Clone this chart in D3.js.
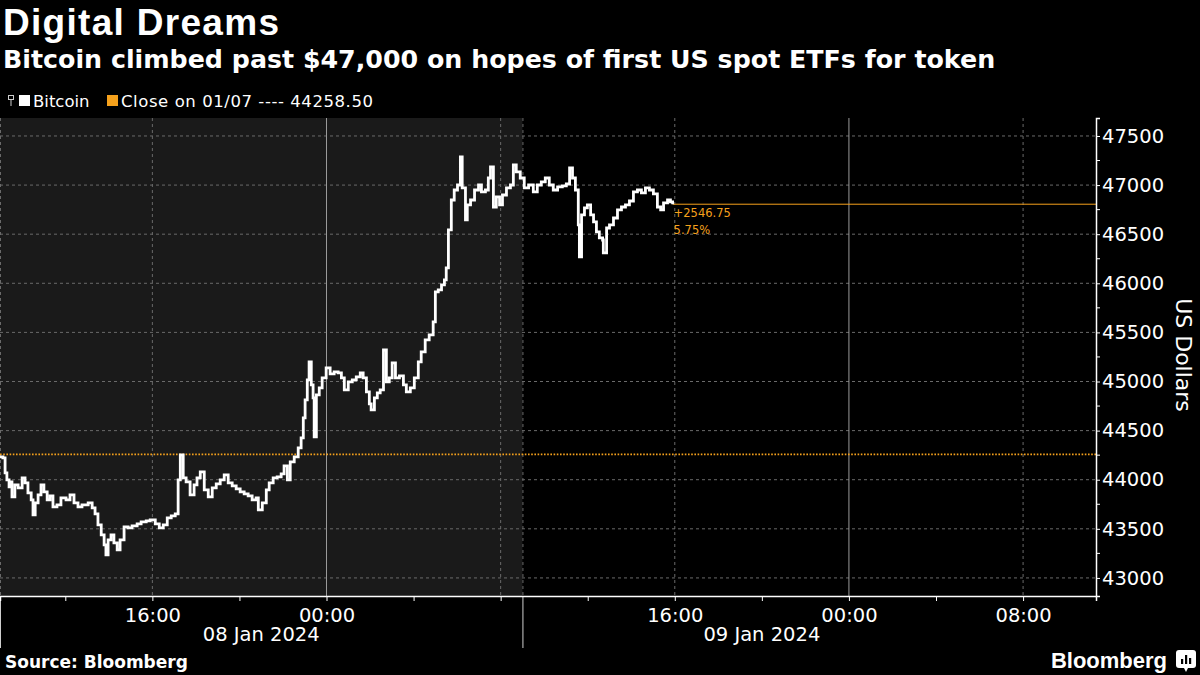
<!DOCTYPE html>
<html>
<head>
<meta charset="utf-8">
<script src="https://cdn.jsdelivr.net/npm/d3@7"></script>
<style>
  body { margin: 0; background: #000; }
  svg { display: block; font-family: "DejaVu Sans", sans-serif; }
</style>
</head>
<body>
<svg id="chart" width="1200" height="675"></svg>
<script>
// Bitcoin price, 08-09 Jan 2024
var times = [
  "01-08 09:00","01-08 09:08","01-08 09:14","01-08 09:19","01-08 09:25","01-08 09:30","01-08 09:33","01-08 09:41","01-08 09:50","01-08 10:01",
  "01-08 10:09","01-08 10:17","01-08 10:26","01-08 10:31","01-08 10:37","01-08 10:45","01-08 10:53","01-08 11:01","01-08 11:10","01-08 11:18",
  "01-08 11:26","01-08 11:37","01-08 11:48","01-08 12:02","01-08 12:13","01-08 12:24","01-08 12:35","01-08 12:46","01-08 13:03","01-08 13:14",
  "01-08 13:22","01-08 13:30","01-08 13:39","01-08 13:47","01-08 13:52","01-08 13:58","01-08 14:06","01-08 14:14","01-08 14:23","01-08 14:31",
  "01-08 14:42","01-08 14:53","01-08 15:04","01-08 15:18","01-08 15:29","01-08 15:43","01-08 15:54","01-08 16:08","01-08 16:19","01-08 16:30",
  "01-08 16:41","01-08 16:52","01-08 17:03","01-08 17:11","01-08 17:17","01-08 17:25","01-08 17:33","01-08 17:44","01-08 17:55","01-08 18:03",
  "01-08 18:12","01-08 18:23","01-08 18:34","01-08 18:45","01-08 18:56","01-08 19:07","01-08 19:18","01-08 19:29","01-08 19:40","01-08 19:51",
  "01-08 20:02","01-08 20:13","01-08 20:24","01-08 20:35","01-08 20:46","01-08 20:52","01-08 21:03","01-08 21:14","01-08 21:22","01-08 21:33",
  "01-08 21:44","01-08 21:55","01-08 22:03","01-08 22:12","01-08 22:20","01-08 22:31","01-08 22:42","01-08 22:50","01-08 22:56","01-08 23:01",
  "01-08 23:07","01-08 23:12","01-08 23:18","01-08 23:23","01-08 23:26","01-08 23:32","01-08 23:40","01-08 23:48","01-08 23:59","01-09 00:10",
  "01-09 00:21","01-09 00:32","01-09 00:41","01-09 00:49","01-09 01:00","01-09 01:11","01-09 01:22","01-09 01:33","01-09 01:41","01-09 01:50",
  "01-09 01:58","01-09 02:03","01-09 02:12","01-09 02:20","01-09 02:28","01-09 02:37","01-09 02:45","01-09 02:53","01-09 03:01","01-09 03:10",
  "01-09 03:21","01-09 03:32","01-09 03:40","01-09 03:51","01-09 04:02","01-09 04:13","01-09 04:21","01-09 04:32","01-09 04:43","01-09 04:54",
  "01-09 05:00","01-09 05:08","01-09 05:17","01-09 05:25","01-09 05:30","01-09 05:36","01-09 05:44","01-09 05:52","01-09 06:01","01-09 06:09",
  "01-09 06:14","01-09 06:23","01-09 06:28","01-09 06:37","01-09 06:48","01-09 06:59","01-09 07:07","01-09 07:18","01-09 07:26","01-09 07:32",
  "01-09 07:40","01-09 07:48","01-09 07:57","01-09 08:05","01-09 08:16","01-09 08:27","01-09 08:35","01-09 08:43","01-09 08:54","01-09 09:05",
  "01-09 09:17","01-09 09:30","01-09 09:41","01-09 09:52","01-09 10:03","01-09 10:14","01-09 10:25","01-09 10:37","01-09 10:50","01-09 11:01",
  "01-09 11:10","01-09 11:18","01-09 11:26","01-09 11:34","01-09 11:37","01-09 11:43","01-09 11:51","01-09 11:59","01-09 12:08","01-09 12:16",
  "01-09 12:24","01-09 12:32","01-09 12:41","01-09 12:43","01-09 12:52","01-09 13:00","01-09 13:11","01-09 13:22","01-09 13:33","01-09 13:44",
  "01-09 13:55","01-09 14:06","01-09 14:17","01-09 14:28","01-09 14:39","01-09 14:50","01-09 15:01","01-09 15:12","01-09 15:21","01-09 15:29",
  "01-09 15:40","01-09 15:48","01-09 15:54"
];
var prices = [
  44232,44222,44069,43998,43927,43978,43825,43947,43917,44018,
  43968,43866,43794,43642,43764,43845,43947,43876,43794,43835,
  43723,43744,43815,43794,43845,43764,43723,43744,43764,43713,
  43652,43540,43438,43336,43235,43387,43438,43357,43285,43387,
  43520,43509,43530,43550,43571,43581,43591,43550,43509,43540,
  43611,43632,43652,43998,44253,44018,43978,43845,43947,44018,
  44080,43896,43825,43917,43957,43998,44049,43968,43937,43906,
  43876,43856,43835,43794,43815,43693,43764,43896,43968,44018,
  44029,44059,44141,43998,44181,44232,44324,44426,44629,44812,
  45016,45199,44965,44833,44436,44863,44935,45036,45138,45077,
  45098,45087,45036,44914,44996,45016,45047,45087,45036,44894,
  44772,44711,44833,44884,44914,45321,44996,45036,45189,45036,
  45057,44965,44894,44935,45036,45199,45301,45423,45474,45607,
  45912,45932,45983,46034,46156,46543,46848,46950,47001,47286,
  46971,46645,46798,46848,46950,47001,46930,46950,47072,47184,
  46777,46879,46798,46899,46971,47001,47205,47134,47072,46971,
  47001,46930,47001,47032,47072,47001,46950,46981,46991,47011,
  47174,47072,46950,46594,46268,46696,46767,46798,46696,46625,
  46523,46462,46441,46309,46563,46594,46665,46747,46777,46798,
  46838,46930,46950,46920,46971,46950,46910,46777,46747,46818,
  46848,46828,46805.25
];
var prevClose = 44258.50;
var yTicks = [43000, 43500, 44000, 44500, 45000, 45500, 46000, 46500, 47000, 47500];
var xLabels = ["01-08 16:00", "01-09 00:00", "01-09 16:00", "01-10 00:00", "01-10 08:00"];
var sessions = [
  {label: "08 Jan 2024", start: "01-08 09:00", end: "01-09 09:00"},
  {label: "09 Jan 2024", start: "01-09 09:00", end: "01-10 07:00"}
];

var parseT = d3.timeParse("%Y-%m-%d %H:%M");
var T = s => parseT("2024-" + s);
var data = times.map((t, i) => ({t: T(t), v: prices[i]}));

var orange = "#f5a11c";
var svg = d3.select("#chart");
var plot = {left: 0, right: 1096, top: 118, bottom: 596};

var x = d3.scaleTime()
  .domain([T("01-08 09:00"), T("01-10 11:21")])
  .range([plot.left, plot.right]);
var y = d3.scaleLinear()
  .domain([42816, 47683])
  .range([plot.bottom, plot.top]);

svg.append("rect").attr("width", 1200).attr("height", 675).attr("fill", "#000");

// shaded previous session
svg.append("rect")
  .attr("x", x(T(sessions[0].start)))
  .attr("y", plot.top)
  .attr("width", x(T(sessions[0].end)) - x(T(sessions[0].start)))
  .attr("height", plot.bottom - plot.top)
  .attr("fill", "#1a1a1a");

// horizontal grid
svg.append("g").selectAll("line")
  .data(yTicks)
  .join("line")
    .attr("x1", plot.left).attr("x2", plot.right)
    .attr("y1", d => y(d)).attr("y2", d => y(d))
    .attr("stroke", "#6a6a6a")
    .attr("stroke-dasharray", "3,3");

// vertical grid every 8 hours, solid at midnight
var grid8 = d3.timeHour.every(8).range(x.domain()[0], x.domain()[1]);
svg.append("g").selectAll("line")
  .data(grid8)
  .join("line")
    .attr("x1", d => x(d)).attr("x2", d => x(d))
    .attr("y1", plot.top).attr("y2", plot.bottom)
    .attr("stroke", d => d.getHours() === 0 ? "#9a9a9a" : "#6a6a6a")
    .attr("stroke-dasharray", d => d.getHours() === 0 ? null : "3,3");

// session separators
svg.append("g").selectAll("line")
  .data(sessions)
  .join("line")
    .attr("x1", d => x(T(d.start)) + 0.5).attr("x2", d => x(T(d.start)) + 0.5)
    .attr("y1", plot.top).attr("y2", plot.bottom)
    .attr("stroke", "#6a6a6a")
    .attr("stroke-dasharray", "3,3");
svg.append("g").selectAll("line")
  .data(sessions)
  .join("line")
    .attr("x1", d => x(T(d.start)) + 0.5).attr("x2", d => x(T(d.start)) + 0.5)
    .attr("y1", plot.bottom).attr("y2", 648)
    .attr("stroke", "#cfcfcf");

// previous close
svg.append("line")
  .attr("x1", plot.left).attr("x2", plot.right)
  .attr("y1", y(prevClose)).attr("y2", y(prevClose))
  .attr("stroke", orange)
  .attr("stroke-width", 1.6)
  .attr("stroke-dasharray", "1.6,1.6");

// last value line
var last = data[data.length - 1];
svg.append("line")
  .attr("x1", x(last.t)).attr("x2", plot.right)
  .attr("y1", y(last.v)).attr("y2", y(last.v))
  .attr("stroke", orange)
  .attr("stroke-width", 1);

// price line
svg.append("path")
  .datum(data)
  .attr("fill", "none")
  .attr("stroke", "#fff")
  .attr("stroke-width", 2.8)
  .attr("stroke-linejoin", "miter")
  .attr("d", d3.line().x(d => x(d.t)).y(d => y(d.v)).curve(d3.curveStepAfter));

// change annotation
var chg = last.v - prevClose;
svg.append("text")
  .attr("x", x(last.t) + 1).attr("y", y(last.v) + 13)
  .attr("fill", orange).attr("font-size", 11.5)
  .text("+" + chg.toFixed(2));
svg.append("text")
  .attr("x", x(last.t) + 1).attr("y", y(last.v) + 30)
  .attr("fill", orange).attr("font-size", 11.5)
  .text((chg / prevClose * 100).toFixed(2) + "%");

// x axis
var xAxis = svg.append("g")
  .attr("transform", "translate(0," + plot.bottom + ")")
  .call(d3.axisBottom(x)
    .tickValues(d3.timeHour.every(4).range(x.domain()[0], x.domain()[1]))
    .tickSize(5)
    .tickFormat(d => xLabels.indexOf(d3.timeFormat("%m-%d %H:%M")(d)) >= 0 ? d3.timeFormat("%H:%M")(d) : ""));
xAxis.select(".domain").attr("stroke", "#fff").attr("stroke-width", 1.5);
xAxis.selectAll(".tick line").attr("stroke", "#fff");
xAxis.selectAll(".tick text")
  .attr("fill", "#fff").attr("font-size", 19.5).attr("dy", "0.9em")
  .attr("font-family", "DejaVu Sans, sans-serif");

// date labels
svg.append("g").selectAll("text")
  .data(sessions)
  .join("text")
    .attr("x", d => (x(T(d.start)) + x(T(d.end))) / 2)
    .attr("y", 641)
    .attr("text-anchor", "middle")
    .attr("fill", "#fff").attr("font-size", 19.5)
    .text(d => d.label);

// y axis
var yAxis = svg.append("g")
  .attr("transform", "translate(" + plot.right + ",0)")
  .call(d3.axisRight(y).tickValues(yTicks).tickSize(4).tickPadding(2).tickFormat(d3.format("d")));
yAxis.select(".domain").attr("stroke", "#fff").attr("stroke-width", 1.5);
yAxis.selectAll(".tick line").attr("stroke", "#fff");
yAxis.selectAll(".tick text")
  .attr("fill", "#fff").attr("font-size", 19.5)
  .attr("font-family", "DejaVu Sans, sans-serif");
svg.append("g").selectAll("line")
  .data(yTicks.slice(0, -1).map(d => d + 250))
  .join("line")
    .attr("x1", plot.right).attr("x2", plot.right + 4)
    .attr("y1", d => y(d)).attr("y2", d => y(d))
    .attr("stroke", "#fff");

svg.append("text")
  .attr("transform", "translate(1176," + ((plot.top + plot.bottom) / 2 - 2) + ") rotate(90)")
  .attr("text-anchor", "middle")
  .attr("fill", "#fff").attr("font-size", 22)
  .text("US Dollars");

// titles
svg.append("text")
  .attr("x", 3).attr("y", 34.5)
  .attr("fill", "#fff").attr("font-size", 37).attr("font-weight", "bold")
  .attr("font-family", "Liberation Sans, Arial, sans-serif")
  .attr("textLength", 276)
  .text("Digital Dreams");
svg.append("text")
  .attr("x", 3).attr("y", 68)
  .attr("fill", "#fff").attr("font-size", 25.3).attr("font-weight", "bold")
  .text("Bitcoin climbed past $47,000 on hopes of first US spot ETFs for token");

// legend
var lg = svg.append("g").attr("transform", "translate(0,101)");
lg.append("rect").attr("x", 8.5).attr("y", -5.5).attr("width", 5).attr("height", 4)
  .attr("fill", "none").attr("stroke", "#ccc");
lg.append("line").attr("x1", 11).attr("x2", 11).attr("y1", -1.5).attr("y2", 5).attr("stroke", "#ccc");
lg.append("rect").attr("x", 19).attr("y", -6).attr("width", 11).attr("height", 11).attr("fill", "#fff");
lg.append("text").attr("x", 33).attr("y", 6).attr("fill", "#fff").attr("font-size", 16.5).text("Bitcoin");
lg.append("rect").attr("x", 107).attr("y", -6).attr("width", 11).attr("height", 11).attr("fill", orange);
lg.append("text").attr("x", 121).attr("y", 6).attr("fill", "#fff").attr("font-size", 16.5)
  .attr("textLength", 252)
  .text("Close on 01/07 ---- " + prevClose.toFixed(2));

// footer
svg.append("text")
  .attr("x", 5).attr("y", 668)
  .attr("fill", "#fff").attr("font-size", 17).attr("font-weight", "bold")
  .text("Source: Bloomberg");
svg.append("text")
  .attr("x", 1167).attr("y", 668)
  .attr("text-anchor", "end")
  .attr("fill", "#fff").attr("font-size", 22).attr("font-weight", "bold")
  .attr("font-family", "Liberation Sans, Arial, sans-serif")
  .text("Bloomberg");
var logo = svg.append("g").attr("transform", "translate(1176,650)");
logo.append("rect").attr("width", 20).attr("height", 18).attr("rx", 3).attr("fill", "#fff");
logo.append("path").attr("d", "M8,18 L10,22 L12,18 Z").attr("fill", "#fff");
[[5, 9], [9, 5], [13, 8]].forEach(function (b) {
  logo.append("rect").attr("x", b[0]).attr("y", b[1]).attr("width", 2.2).attr("height", 14 - b[1]).attr("fill", "#000");
});
</script>
</body>
</html>
